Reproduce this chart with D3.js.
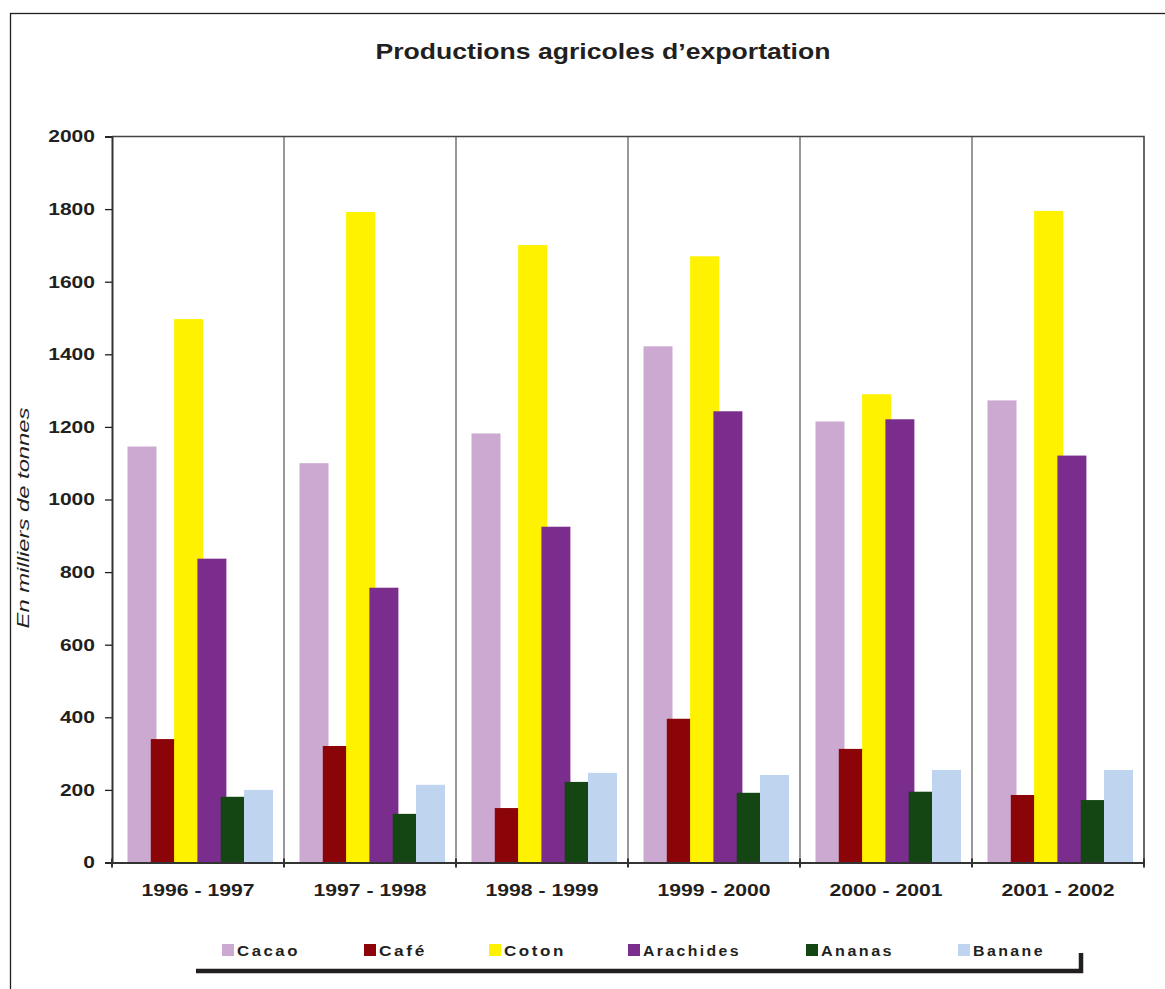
<!DOCTYPE html>
<html>
<head>
<meta charset="utf-8">
<script src="https://cdn.jsdelivr.net/npm/d3@7/dist/d3.min.js"></script>
<style>
  html, body { margin: 0; padding: 0; background: #fff; }
  svg { display: block; font-family: "Liberation Sans", Arial, sans-serif; }
</style>
</head>
<body>
<svg id="chart" width="1165" height="989"></svg>
<script>
// Campaign years
const campaigns = ["1996 - 1997", "1997 - 1998", "1998 - 1999", "1999 - 2000", "2000 - 2001", "2001 - 2002"];

// Production in thousands of tonnes, one array per crop
const cacao     = [1146, 1100, 1182, 1422, 1215, 1273];
const cafe      = [340, 321, 150, 396, 313, 186];
const coton     = [1497, 1792, 1701, 1670, 1290, 1795];
const arachides = [837, 757, 925, 1243, 1221, 1121];
const ananas    = [181, 134, 222, 192, 195, 172];
const banane    = [200, 214, 247, 241, 255, 255];

const seriesNames = ["Cacao", "Café", "Coton", "Arachides", "Ananas", "Banane"];
const seriesColors = ["#cca9d0", "#8b0508", "#fff200", "#7a2d8c", "#134612", "#bfd4ee"];
const yTicks = [0, 200, 400, 600, 800, 1000, 1200, 1400, 1600, 1800, 2000];

const seriesValues = [cacao, cafe, coton, arachides, ananas, banane];
const series = seriesNames.map((name, i) => ({ name, color: seriesColors[i], values: seriesValues[i] }));

const ink = "#231f20";
const svg = d3.select("#chart");

// Outer frame
svg.append("rect")
  .attr("x", 10.5).attr("y", 13.5)
  .attr("width", 1170).attr("height", 1000)
  .attr("fill", "none").attr("stroke", ink).attr("stroke-width", 1.3);

// Title (the typeface is set wide, so the run is stretched to its width)
svg.append("text")
  .attr("x", 603).attr("y", 58.5)
  .attr("text-anchor", "middle")
  .attr("font-size", 22).attr("font-weight", "bold").attr("fill", ink)
  .attr("textLength", 455).attr("lengthAdjust", "spacingAndGlyphs")
  .text("Productions agricoles d’exportation");

const plot = { left: 112, right: 1144, top: 136.5, bottom: 862.5 };

const x = d3.scaleBand().domain(campaigns).range([plot.left, plot.right]).padding(0);
const y = d3.scaleLinear().domain([0, 2000]).range([plot.bottom, plot.top]);

// Overlapping clustered bars: each bar is wider than the step between bars
const barWidth = 29;
const step = 23.3;
const xs = d3.scalePoint().domain(seriesNames).range([15.5, 15.5 + step * (seriesNames.length - 1)]);

// Category separators
svg.append("g")
  .selectAll("line")
  .data(campaigns.slice(1))
  .join("line")
  .attr("x1", d => x(d)).attr("x2", d => x(d))
  .attr("y1", plot.top).attr("y2", plot.bottom)
  .attr("stroke", "#777").attr("stroke-width", 1.5);

// Plot frame (top and right)
svg.append("path")
  .attr("d", `M${plot.left},${plot.top}H${plot.right}V${plot.bottom}`)
  .attr("fill", "none").attr("stroke", "#444").attr("stroke-width", 1.6);

// Bars, series drawn in order so later crops sit over earlier ones
const groups = svg.append("g").selectAll("g")
  .data(series)
  .join("g")
  .attr("fill", d => d.color);

groups.selectAll("rect")
  .data(s => s.values.map((v, i) => ({ name: s.name, campaign: campaigns[i], value: v })))
  .join("rect")
  .attr("x", d => x(d.campaign) + xs(d.name))
  .attr("width", barWidth)
  .attr("y", d => y(d.value))
  .attr("height", d => y(0) - y(d.value));

// Y axis
const yAxis = svg.append("g")
  .attr("transform", `translate(${plot.left},0)`)
  .call(d3.axisLeft(y).tickValues(yTicks).tickSize(7).tickPadding(10).tickFormat(d3.format("d")));
yAxis.select(".domain").attr("stroke", "#333").attr("stroke-width", 2);
yAxis.selectAll(".tick line").attr("stroke", ink).attr("stroke-width", 1.3);
yAxis.selectAll(".tick text")
  .attr("font-size", 17).attr("font-weight", "bold").attr("fill", ink)
  .attr("font-family", "Liberation Sans, Arial, sans-serif")
  .attr("textLength", d => String(d).length * 11.7)
  .attr("lengthAdjust", "spacingAndGlyphs");

// X axis with ticks at category boundaries
const xAxis = svg.append("g")
  .attr("transform", `translate(0,${plot.bottom})`)
  .call(d3.axisBottom(x).tickSize(0).tickPadding(21.5));
xAxis.select(".domain").attr("stroke", "#333").attr("stroke-width", 2.2);
xAxis.selectAll(".tick text")
  .attr("font-size", 17).attr("font-weight", "bold").attr("fill", ink)
  .attr("font-family", "Liberation Sans, Arial, sans-serif")
  .attr("textLength", 113).attr("lengthAdjust", "spacingAndGlyphs");
xAxis.append("g").selectAll("line")
  .data(d3.range(campaigns.length + 1))
  .join("line")
  .attr("x1", i => plot.left + i * x.bandwidth())
  .attr("x2", i => plot.left + i * x.bandwidth())
  .attr("y1", -4).attr("y2", 5)
  .attr("stroke", "#333").attr("stroke-width", 2);

// Y axis title
svg.append("text")
  .attr("transform", "translate(29,518) rotate(-90)")
  .attr("text-anchor", "middle")
  .attr("font-size", 16).attr("font-style", "italic").attr("fill", ink)
  .attr("textLength", 221).attr("lengthAdjust", "spacingAndGlyphs")
  .text("En milliers de tonnes");

// Legend
const legendX = [222, 364, 489, 628, 806, 958];
const legendTextWidth = [63, 48, 62, 98, 73, 72];
const legend = svg.append("g");
const items = legend.selectAll("g")
  .data(series)
  .join("g")
  .attr("transform", (d, i) => `translate(${legendX[i]},944)`);
items.append("rect")
  .attr("width", 12).attr("height", 12)
  .attr("fill", d => d.color);
items.append("text")
  .attr("x", 15).attr("y", 11.5)
  .attr("font-size", 14.5).attr("font-weight", "bold").attr("fill", ink)
  .attr("letter-spacing", 2.2)
  .attr("textLength", (d, i) => legendTextWidth[i])
  .attr("lengthAdjust", "spacingAndGlyphs")
  .text(d => d.name);

// Legend shadow
legend.append("path")
  .attr("d", "M196,971H1081V953")
  .attr("fill", "none").attr("stroke", ink).attr("stroke-width", 4.5);
</script>
</body>
</html>
